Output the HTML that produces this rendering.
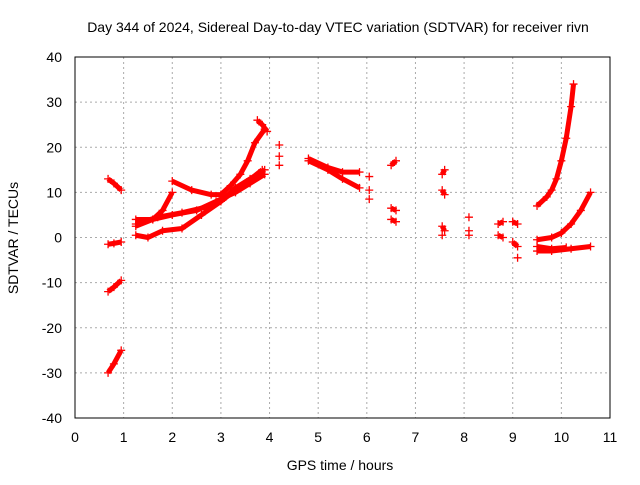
<!DOCTYPE html>
<html><head><meta charset="utf-8"><style>
body{margin:0;background:#fff}
svg text{font-family:"Liberation Sans",sans-serif;font-size:14px;fill:#000}
</style></head><body>
<svg id="chart" width="640" height="480" xmlns="http://www.w3.org/2000/svg">
<rect width="640" height="480" fill="#fff"/>
<text x="338" y="32" text-anchor="middle">Day 344 of 2024, Sidereal Day-to-day VTEC variation (SDTVAR) for receiver rivn</text>
<g id="grid"></g><g id="axes"></g><g id="marks"></g>
<text x="340" y="470" text-anchor="middle">GPS time / hours</text>
<text transform="translate(18,238) rotate(-90)" text-anchor="middle">SDTVAR / TECUs</text>
</svg>
<script>
const xTicks=[0,1,2,3,4,5,6,7,8,9,10,11];
const yTicks=[-40,-30,-20,-10,0,10,20,30,40];
const tracks=[
[[0.68,13],[0.8,12],[0.95,10.5]],
[[0.68,-1.5],[0.8,-1.3],[0.95,-1]],
[[0.68,-12],[0.8,-11],[0.95,-9.5]],
[[0.68,-30],[0.8,-28],[0.95,-25]],
[[1.25,4],[1.6,4],[2.0,5],[2.5,6],[2.9,8],[3.3,10],[3.6,12],[3.9,14]],
[[1.25,3],[1.7,4.5],[2.2,5.5],[2.8,7],[3.1,9],[3.3,11],[3.6,13],[3.9,15]],
[[1.25,0.5],[1.5,0],[1.8,1.5],[2.2,2],[2.6,5],[3.0,8],[3.3,10.5],[3.5,12],[3.85,15]],
[[1.25,2.5],[1.6,4],[1.8,6],[2.0,10]],
[[2.0,12.5],[2.4,10.5],[2.8,9.5],[3.0,9.5],[3.2,11.5],[3.4,14],[3.55,17],[3.7,21],[3.9,24]],
[[3.75,26],[3.85,25],[3.95,23.5]],
[[4.2,20.5]],[[4.2,18]],[[4.2,16]],
[[4.8,17.5],[5.2,15.5],[5.5,14.5],[5.85,14.5]],
[[4.8,17],[5.2,15],[5.5,13],[5.85,11]],
[[6.05,13.5]],[[6.05,10.5]],[[6.05,8.5]],
[[6.5,16],[6.6,17]],[[6.5,6.5],[6.6,6]],[[6.5,4],[6.6,3.5]],
[[7.55,14],[7.6,15]],[[7.55,10.5],[7.6,9.5]],[[7.55,2.5],[7.6,1.5]],[[7.55,0.5]],
[[8.1,4.5]],[[8.1,1.5]],[[8.1,0.5]],
[[8.7,3],[8.8,3.5]],[[8.7,0.5],[8.8,0]],
[[9.0,3.5],[9.1,3]],[[9.0,-1],[9.1,-2]],[[9.1,-4.5]],
[[9.5,7],[9.7,9],[9.8,10.5],[9.9,13],[10.0,17],[10.1,22],[10.2,29],[10.25,34]],
[[9.5,-0.5],[9.8,0],[10.0,1],[10.2,3],[10.4,6],[10.6,10]],
[[9.5,-3],[9.8,-3],[10.2,-2.5],[10.6,-2]],
[[9.5,-2],[9.8,-2.5],[10.1,-2.2]]
];
const X=v=>75+v*(535/11), Y=v=>237.5-v*(361/80);
const NS="http://www.w3.org/2000/svg";
const grid=document.getElementById('grid'),axes=document.getElementById('axes'),marks=document.getElementById('marks');
function mk(t,a,p){const e=document.createElementNS(NS,t);for(const k in a)e.setAttribute(k,a[k]);p.appendChild(e);return e;}
const frame=mk('rect',{x:75,y:57,width:535,height:361,fill:'none',stroke:'#000','stroke-width':1},axes);


xTicks.forEach(v=>{const x=X(v);
 if(v>0&&v<11){const g=mk('line',{x1:x,x2:x,y1:57,y2:418,stroke:'#aaa','stroke-dasharray':'2,3'},grid);
 }
 const t=mk('text',{x:x,y:442,'text-anchor':'middle'},axes);t.textContent=v;
 });
yTicks.forEach(v=>{const y=Y(v);
 if(v>-40&&v<40){const g=mk('line',{x1:75,x2:610,y1:y,y2:y,stroke:'#aaa','stroke-dasharray':'2,3'},grid);
 }
 const t=mk('text',{x:62,y:y+5,'text-anchor':'end'},axes);t.textContent=v;
 });
tracks.forEach(tr=>{
 if(tr.length>1){const pl=mk('polyline',{points:tr.map(p=>X(p[0])+','+Y(p[1])).join(' '),fill:'none',stroke:'#f00','stroke-width':5,'stroke-linejoin':'round'},marks);
 }
 tr.forEach(p=>{const x=X(p[0]),y=Y(p[1]);
 const m=mk('path',{d:`M${x-4} ${y}h8M${x} ${y-4}v8`,stroke:'#f00','stroke-width':1.3},marks);
 });
});
</script>
</body></html>
